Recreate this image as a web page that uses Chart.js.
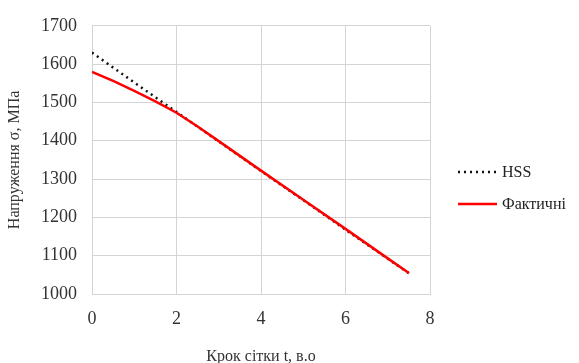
<!DOCTYPE html>
<html><head><meta charset="utf-8">
<script src="https://cdn.jsdelivr.net/npm/chart.js@4"></script>
<style>html,body{margin:0;padding:0;background:#fff}#wrap{width:579px;height:363px}</style>
</head><body><div id="wrap"><canvas id="c" width="579" height="363"></canvas></div>
<script>
const seriesNames = ["HSS", "Фактичні"];
const hssX = [0, 1, 2, 3, 4, 5, 6, 7, 7.5];
const hssY = [1630, 1552, 1475, 1398, 1321, 1245, 1168, 1092, 1054];
const factX = [0, 0.5, 1, 1.5, 2, 2.5, 3, 4, 5, 6, 7, 7.5];
const factY = [1580, 1556, 1530, 1503, 1473, 1437, 1399, 1322, 1246, 1170, 1093, 1055];
const xTicks = [0, 2, 4, 6, 8];
const yTicks = [1000, 1100, 1200, 1300, 1400, 1500, 1600, 1700];
const xTitle = "Крок сітки t, в.о";
const yTitle = "Напруження σ, МПа";

const toPts = (xs, ys) => xs.map((x, i) => ({x, y: ys[i]}));
const FONT = "'Liberation Serif', 'Times New Roman', serif";

const legendPlugin = {
  id: 'customLegend',
  afterDraw(chart) {
    const ctx = chart.ctx;
    const items = chart.data.datasets;
    const x0 = 458, len = 39;
    const ys = [172, 204];
    [0, 1].forEach(i => {
      const ds = items[i];
      ctx.save();
      ctx.strokeStyle = ds.borderColor;
      ctx.lineWidth = ds.borderWidth;
      ctx.setLineDash(ds.borderDash || []);
      ctx.lineCap = ds.borderCapStyle || 'butt';
      ctx.beginPath();
      ctx.moveTo(x0, ys[i]);
      ctx.lineTo(x0 + len, ys[i]);
      ctx.stroke();
      ctx.setLineDash([]);
      ctx.fillStyle = '#222';
      ctx.font = "16px " + FONT;
      ctx.textBaseline = 'middle';
      ctx.fillText(ds.label, x0 + len + 5, ys[i] + 1);
      ctx.restore();
    });
  }
};

new Chart(document.getElementById('c'), {
  type: 'line',
  data: {
    datasets: [
      {label: seriesNames[0], data: toPts(hssX, hssY), borderColor: '#111', borderWidth: 2.5,
       borderDash: [2, 4], borderCapStyle: 'butt', pointRadius: 0, tension: 0, order: 2},
      {label: seriesNames[1], data: toPts(factX, factY), borderColor: '#ff0000', borderWidth: 2.5,
       pointRadius: 0, tension: 0, order: 1}
    ]
  },
  options: {
    responsive: false,
    animation: false,
    devicePixelRatio: 1,
    layout: {padding: {left: 0, right: 149, top: 22, bottom: 0}},
    plugins: {legend: {display: false}, tooltip: {enabled: false}},
    scales: {
      x: {
        type: 'linear', min: 0, max: 8,
        afterBuildTicks: s => { s.ticks = xTicks.map(v => ({value: v})); },
        afterFit: s => { s.height = 69; },
        grid: {color: '#d4d4d4', lineWidth: 1, drawTicks: false},
        border: {color: '#d4d4d4'},
        ticks: {padding: 14, color: '#333', font: {family: FONT, size: 18}, callback: v => String(v)},
        title: {display: true, text: xTitle, color: '#333', font: {family: FONT, size: 16}, padding: {top: 0, bottom: -3}}
      },
      y: {
        type: 'linear', min: 1000, max: 1700,
        afterBuildTicks: s => { s.ticks = yTicks.map(v => ({value: v})); },
        afterFit: s => { s.width = 92; },
        grid: {color: '#d4d4d4', lineWidth: 1, drawTicks: false},
        border: {color: '#d4d4d4'},
        ticks: {padding: 15, color: '#333', font: {family: FONT, size: 18}, callback: v => String(v)},
        title: {display: true, text: yTitle, color: '#333', font: {family: FONT, size: 16}, padding: {top: 5, bottom: 0}}
      }
    }
  },
  plugins: [legendPlugin]
});
</script></body></html>
